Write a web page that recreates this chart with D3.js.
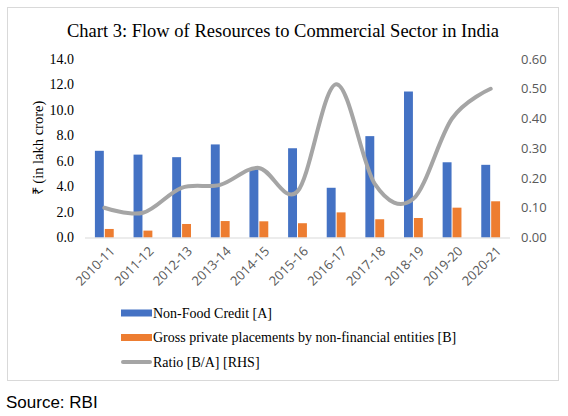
<!DOCTYPE html>
<html>
<head>
<meta charset="utf-8">
<script src="https://cdn.jsdelivr.net/npm/d3@7"></script>
<style>
  body { margin: 0; background: #fff; }
  svg { display: block; }
</style>
</head>
<body>
<div id="chart"></div>
<script>
var years = ["2010-11","2011-12","2012-13","2013-14","2014-15","2015-16","2016-17","2017-18","2018-19","2019-20","2020-21"];
var nonFood = [6.8, 6.5, 6.3, 7.3, 5.35, 7.0, 3.9, 7.95, 11.45, 5.9, 5.7];
var placements = [0.67, 0.54, 1.06, 1.29, 1.27, 1.12, 1.97, 1.43, 1.53, 2.34, 2.84];
var ratio = [0.10, 0.083, 0.167, 0.177, 0.234, 0.155, 0.515, 0.18, 0.13, 0.40, 0.50];
var leftTicks = [0, 2, 4, 6, 8, 10, 12, 14];
var rightTicks = [0, 0.1, 0.2, 0.3, 0.4, 0.5, 0.6];
var legendNames = ["Non-Food Credit [A]", "Gross private placements by non-financial entities [B]", "Ratio [B/A] [RHS]"];
var colors = ["#4472C4", "#ED7D31", "#A5A5A5"];

var W = 568, H = 416;
var margin = {top: 59, right: 58, bottom: 178.5, left: 85};
var pw = W - margin.left - margin.right,
    ph = H - margin.top - margin.bottom;

var svg = d3.select("#chart").append("svg")
    .attr("width", W)
    .attr("height", H);

// chart frame
svg.append("rect")
    .attr("x", 7.5).attr("y", 7.5)
    .attr("width", 551).attr("height", 373)
    .attr("fill", "#fff")
    .attr("stroke", "#d9d9d9");

svg.append("text")
    .attr("x", 283).attr("y", 36.5)
    .attr("text-anchor", "middle")
    .style("font-family", "'Liberation Serif', serif")
    .style("font-size", "18.5px")
    .attr("fill", "#000")
    .text("Chart 3: Flow of Resources to Commercial Sector in India");

var g = svg.append("g")
    .attr("transform", "translate(" + margin.left + "," + margin.top + ")");

var x = d3.scaleBand().domain(years).range([0, pw]);
var x1 = d3.scaleBand().domain(["A", "B"]).range([0, x.bandwidth()])
    .paddingInner(0.1).paddingOuter(1.0);
var y = d3.scaleLinear().domain([0, 14]).range([ph, 0]);
var y2 = d3.scaleLinear().domain([0, 0.6]).range([ph, 0]);

// left axis labels
g.append("g")
  .call(d3.axisLeft(y).tickValues(leftTicks).tickFormat(d3.format(".1f")).tickSize(0).tickPadding(11))
  .call(function(a) { a.select(".domain").remove(); })
  .selectAll("text")
    .style("font-family", "'Liberation Serif', serif")
    .style("font-size", "14px")
    .attr("fill", "#000");

// right axis labels
g.append("g")
  .attr("transform", "translate(" + pw + ",0)")
  .call(d3.axisRight(y2).tickValues(rightTicks).tickFormat(d3.format(".2f")).tickSize(0).tickPadding(11))
  .call(function(a) { a.select(".domain").remove(); })
  .selectAll("text")
    .style("font-family", "'Open Sans', sans-serif")
    .style("font-size", "13px")
    .attr("fill", "#595959");

svg.append("text")
    .attr("transform", "translate(43," + 148 + ") rotate(-90)")
    .attr("text-anchor", "middle")
    .style("font-family", "'Liberation Serif', serif")
    .style("font-size", "14.5px")
    .attr("fill", "#000")
    .text("₹ (in lakh crore)");

// bars
var grp = g.selectAll(".yr").data(years).enter().append("g")
    .attr("transform", function(d) { return "translate(" + x(d) + ",0)"; });

grp.append("rect")
    .attr("x", x1("A"))
    .attr("y", function(d, i) { return y(nonFood[i]); })
    .attr("width", x1.bandwidth())
    .attr("height", function(d, i) { return ph - y(nonFood[i]); })
    .attr("fill", colors[0]);

grp.append("rect")
    .attr("x", x1("B"))
    .attr("y", function(d, i) { return y(placements[i]); })
    .attr("width", x1.bandwidth())
    .attr("height", function(d, i) { return ph - y(placements[i]); })
    .attr("fill", colors[1]);

// x axis line
g.append("line")
    .attr("x1", 0).attr("x2", pw)
    .attr("y1", ph + 0.5).attr("y2", ph + 0.5)
    .attr("stroke", "#d9d9d9");

// ratio line (smoothed)
var line = d3.line()
    .x(function(d, i) { return x(years[i]) + x.bandwidth() / 2; })
    .y(function(d) { return y2(d); })
    .curve(d3.curveCatmullRom.alpha(0));

g.append("path")
    .datum(ratio)
    .attr("d", line)
    .attr("fill", "none")
    .attr("stroke", colors[2])
    .attr("stroke-width", 4)
    .attr("stroke-linecap", "round");

// x labels
g.selectAll(".xl").data(years).enter().append("text")
    .attr("transform", function(d) {
      return "translate(" + (x(d) + x.bandwidth() / 2 + 5) + "," + (ph + 8) + ") rotate(-45)";
    })
    .attr("text-anchor", "end")
    .attr("dy", "0.7em")
    .style("font-family", "'Open Sans', sans-serif")
    .style("font-size", "13px")
    .attr("fill", "#595959")
    .text(function(d) { return d; });

// legend
var leg = svg.selectAll(".leg").data(legendNames).enter().append("g")
    .attr("transform", function(d, i) { return "translate(121," + [313, 337.5, 362][i] + ")"; });

leg.each(function(d, i) {
  var s = d3.select(this);
  if (i < 2) {
    s.append("rect").attr("x", 0).attr("y", -3.5).attr("width", 31).attr("height", 7).attr("fill", colors[i]);
  } else {
    s.append("line").attr("x1", 2).attr("x2", 29).attr("y1", 0).attr("y2", 0)
      .attr("stroke", colors[2]).attr("stroke-width", 4).attr("stroke-linecap", "round");
  }
  s.append("text")
    .attr("x", 32).attr("y", 0).attr("dy", "0.35em")
    .style("font-family", "'Liberation Serif', serif")
    .style("font-size", "14px")
    .attr("fill", "#000")
    .text(d);
});

svg.append("text")
    .attr("x", 6).attr("y", 408)
    .style("font-family", "'Liberation Sans', Arial, sans-serif")
    .style("font-size", "17px")
    .attr("fill", "#000")
    .text("Source: RBI");
</script>
</body>
</html>
